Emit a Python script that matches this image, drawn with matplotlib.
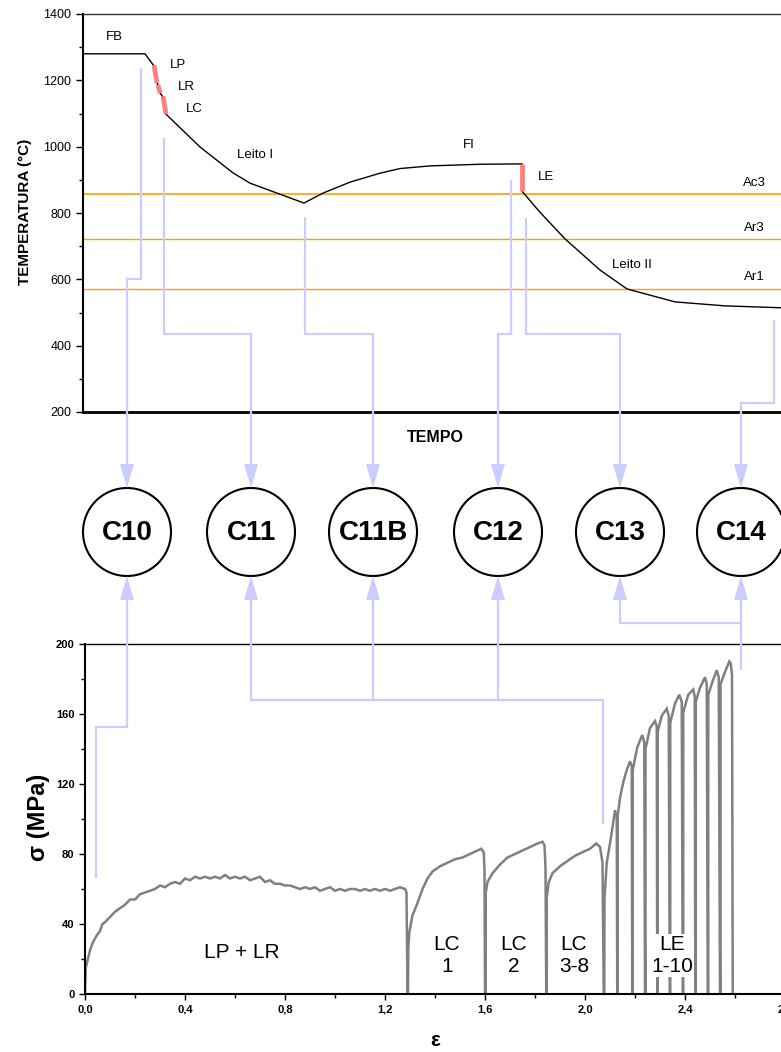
import matplotlib.pyplot as plt
from matplotlib.patches import Circle, Polygon
from matplotlib.ticker import MultipleLocator, FuncFormatter

plt.rcParams['font.family'] = ['Liberation Sans', 'DejaVu Sans']

# ---- temperature schedule (tempo in arbitrary units) ----
tempo = [0, 62, 71, 74, 75, 77, 80, 83, 117, 150, 167, 194, 221, 240, 267, 297,
         317, 347, 397, 439, 439, 455, 467, 482, 517, 544, 592, 642, 701]
temp = [1280, 1280, 1243, 1192, 1186, 1162, 1150, 1098, 999, 921, 890, 860, 830,
        860, 893, 920, 934, 942, 947, 948, 866, 809, 770, 722, 628, 571, 532, 520, 514]

# deformation passes (red)
passes_t = [(71, 74), (75, 77), (80, 83), (439, 439)]
passes_T = [(1245, 1192), (1186, 1162), (1152, 1098), (948, 866)]

crit_names = ['Ac3', 'Ar3', 'Ar1']
crit_temp = [857, 722, 571]

top_labels = ['FB', 'LP', 'LR', 'LC', 'Leito I', 'FI', 'LE', 'Leito II']
top_label_t = [31, 95, 103, 111, 172, 386, 463, 549]
top_label_T = [1330, 1246, 1180, 1114, 975, 1005, 909, 643]

# ---- stress-strain curve ----
eps = [0, 0.003, 0.01, 0.02, 0.03, 0.045, 0.06, 0.07, 0.08, 0.1, 0.12, 0.14, 0.16,
       0.18, 0.2, 0.22, 0.24, 0.26, 0.28, 0.3, 0.32, 0.34, 0.36, 0.38, 0.4, 0.42,
       0.44, 0.46, 0.48, 0.5, 0.52, 0.54, 0.56, 0.58, 0.6, 0.62, 0.64, 0.66, 0.68,
       0.7, 0.72, 0.74, 0.76, 0.78, 0.8, 0.82, 0.84, 0.86, 0.88, 0.9, 0.92, 0.94,
       0.96, 0.98, 1.0, 1.02, 1.04, 1.06, 1.08, 1.1, 1.12, 1.14, 1.16, 1.18, 1.2,
       1.22, 1.24, 1.26, 1.28, 1.286, 1.29,
       # LC 1
       1.292, 1.293, 1.297, 1.31, 1.33, 1.35, 1.37, 1.39, 1.42, 1.45, 1.48, 1.51,
       1.54, 1.57, 1.585, 1.595, 1.598, 1.6,
       # LC 2
       1.603, 1.603, 1.61, 1.63, 1.66, 1.69, 1.72, 1.75, 1.78, 1.81, 1.83, 1.838,
       1.842, 1.845,
       # LC 3-8
       1.847, 1.847, 1.855, 1.87, 1.9, 1.93, 1.96, 1.99, 2.02, 2.045, 2.06, 2.07,
       2.075,
       # LE 1-10
       2.077, 2.078, 2.087, 2.1, 2.113, 2.12, 2.127, 2.129,
       2.131, 2.131, 2.14, 2.153, 2.167, 2.18, 2.187, 2.189,
       2.191, 2.191, 2.209, 2.229, 2.237, 2.24,
       2.242, 2.242, 2.26, 2.28, 2.287, 2.289,
       2.291, 2.291, 2.307, 2.327, 2.335, 2.339,
       2.341, 2.341, 2.36, 2.377, 2.387, 2.391,
       2.393, 2.393, 2.413, 2.433, 2.439, 2.441,
       2.443, 2.443, 2.46, 2.48, 2.487, 2.491,
       2.493, 2.493, 2.511, 2.527, 2.535, 2.54,
       2.542, 2.542, 2.56, 2.577, 2.583, 2.588, 2.591]
sigma = [0, 15, 19, 25, 29, 33, 36, 40, 41, 44, 47, 49, 51,
         54, 54, 57, 58, 59, 60, 62, 61, 63, 64, 63, 66, 65,
         67, 66, 67, 66, 67, 66, 68, 66, 67, 66, 67, 65, 66,
         67, 64, 65, 63, 63, 62, 62, 61, 60, 61, 60, 61, 59,
         60, 61, 59, 60, 59, 60, 60, 59, 60, 59, 60, 59, 60,
         59, 60, 61, 60, 58, 0,
         0, 25, 35, 45, 52, 60, 66, 70, 73, 75, 77, 78,
         80, 82, 83, 81, 70, 0,
         0, 58, 64, 69, 74, 78, 80, 82, 84, 86, 87, 85,
         72, 0,
         0, 55, 64, 69, 73, 76, 79, 81, 83, 86, 84, 75,
         0,
         0, 55, 75, 86, 98, 105, 101, 0,
         0, 102, 112, 121, 128, 133, 130, 0,
         0, 128, 141, 148, 144, 0,
         0, 140, 152, 156, 153, 0,
         0, 150, 159, 163, 159, 0,
         0, 155, 166, 171, 167, 0,
         0, 161, 171, 174, 170, 0,
         0, 167, 175, 181, 177, 0,
         0, 171, 179, 185, 181, 0,
         0, 177, 184, 190, 189, 182, 0]

bot_labels = ['LP + LR', 'LC\n1', 'LC\n2', 'LC\n3-8', 'LE\n1-10']
bot_label_eps = [0.628, 1.448, 1.716, 1.956, 2.348]
bot_label_sig = [24, 22, 22, 22, 22]

circ_names = ['C10', 'C11', 'C11B', 'C12', 'C13', 'C14']
circ_x = [127, 251, 373, 498, 620, 741]

W, H = 781, 1052
fig = plt.figure(figsize=(W / 100, H / 100), dpi=100)

# ---------------- top panel ----------------
ax1 = fig.add_axes([83 / W, (H - 412) / H, 700 / W, 398 / H])
ax1.set_xlim(0, 700)
ax1.set_ylim(200, 1400)
for name, T in zip(crit_names, crit_temp):
    ax1.axhline(T, color='#FFA000', lw=1.2 if name == 'Ac3' else 1.0, zorder=1)
ax1.plot(tempo, temp, color='black', lw=1.0, zorder=3)
for (t0, t1), (T0, T1) in zip(passes_t, passes_T):
    ax1.plot([t0, t1], [T0, T1], color='#FF7F7F', lw=3.4, solid_capstyle='butt', zorder=4)
for s, t, T in zip(top_labels, top_label_t, top_label_T):
    ax1.text(t, T, s, fontsize=9.5, ha='center', va='center')
ax1.text(671, 890, 'Ac3', fontsize=9.5, ha='center', va='center')
ax1.text(671, 755, 'Ar3', fontsize=9.5, ha='center', va='center')
ax1.text(671, 607, 'Ar1', fontsize=9.5, ha='center', va='center')

ax1.yaxis.set_major_locator(MultipleLocator(200))
ax1.yaxis.set_minor_locator(MultipleLocator(100))
ax1.set_xticks([])
ax1.tick_params(axis='y', which='both', direction='out', labelsize=9, width=1)
ax1.tick_params(axis='y', which='major', length=5)
ax1.tick_params(axis='y', which='minor', length=3)
ax1.spines['right'].set_visible(False)
ax1.spines['left'].set_linewidth(1.5)
ax1.spines['bottom'].set_linewidth(2)
ax1.spines['top'].set_linewidth(1)
ax1.spines['top'].set_color('#333333')
fig.text(25 / W, 1 - 212 / H, 'TEMPERATURA (°C)', rotation=90, fontsize=11,
         fontweight='bold', ha='center', va='center')
fig.text(435 / W, 1 - 438 / H, 'TEMPO', fontsize=11.5, fontweight='bold',
         ha='center', va='center')

# ---------------- bottom panel ----------------
ax2 = fig.add_axes([85 / W, (H - 994) / H, 700 / W, 350 / H])
ax2.set_xlim(0, 2.8)
ax2.set_ylim(0, 200)
ax2.plot(eps, sigma, color='#808080', lw=1.8, solid_joinstyle='miter')
for s, e, v in zip(bot_labels, bot_label_eps, bot_label_sig):
    box = dict(facecolor='white', edgecolor='none', pad=1) if s.startswith('LE') else None
    ax2.text(e, v, s, fontsize=15, ha='center', va='center', linespacing=1.15, bbox=box)
ax2.xaxis.set_major_locator(MultipleLocator(0.4))
ax2.xaxis.set_minor_locator(MultipleLocator(0.2))
ax2.yaxis.set_major_locator(MultipleLocator(40))
ax2.yaxis.set_minor_locator(MultipleLocator(20))
ax2.xaxis.set_major_formatter(FuncFormatter(lambda v, p: f'{v:.1f}'.replace('.', ',')))
ax2.tick_params(which='both', direction='out', labelsize=8, width=1)
ax2.tick_params(which='major', length=4)
ax2.tick_params(which='minor', length=3)
for lab in ax2.get_xticklabels() + ax2.get_yticklabels():
    lab.set_fontweight('bold')
ax2.spines['right'].set_visible(False)
ax2.spines['left'].set_linewidth(1.5)
ax2.spines['bottom'].set_linewidth(1.5)
ax2.spines['top'].set_linewidth(1)
fig.text(38 / W, 1 - 817 / H, 'σ (MPa)', rotation=90, fontsize=17,
         fontweight='bold', ha='center', va='center')
fig.text(435 / W, 1 - 1040 / H, 'ε', fontsize=15, fontweight='bold',
         ha='center', va='center')

# ---------------- overlay: circles and connectors ----------------
ov = fig.add_axes([0, 0, 1, 1], zorder=5)
ov.set_xlim(0, W)
ov.set_ylim(H, 0)
ov.axis('off')
ov.patch.set_alpha(0)

lav = '#CCCCFF'
top_paths = [
    [(141, 68), (141, 279), (127, 279), (127, 466)],
    [(164, 138), (164, 334), (251, 334), (251, 466)],
    [(305, 217), (305, 334), (373, 334), (373, 466)],
    [(511, 180), (511, 334), (498, 334), (498, 466)],
    [(526, 218), (526, 334), (620, 334), (620, 466)],
    [(774, 320), (774, 403), (741, 403), (741, 466)],
]
bot_paths = [
    [(96, 878), (96, 727), (127, 727), (127, 599)],
    [(603, 824), (603, 700), (251, 700), (251, 599)],
    [(373, 700), (373, 599)],
    [(498, 700), (498, 599)],
    [(741, 670), (741, 599)],
    [(741, 623), (620, 623), (620, 599)],
]
for path in top_paths + bot_paths:
    xs, ys = zip(*path)
    ov.plot(xs, ys, color=lav, lw=1.6, solid_joinstyle='miter', solid_capstyle='butt')

cy, r = 532, 44
for name, cx in zip(circ_names, circ_x):
    ov.add_patch(Circle((cx, cy), r, facecolor='white', edgecolor='black', lw=1.5))
    ov.text(cx, cy + 1, name, fontsize=20, fontweight='bold', ha='center', va='center')
    ov.add_patch(Polygon([(cx - 7, cy - r - 24), (cx + 7, cy - r - 24), (cx, cy - r)],
                         closed=True, color=lav, lw=0))
    ov.add_patch(Polygon([(cx - 7, cy + r + 24), (cx + 7, cy + r + 24), (cx, cy + r)],
                         closed=True, color=lav, lw=0))

fig.savefig('out.png', dpi=100)
